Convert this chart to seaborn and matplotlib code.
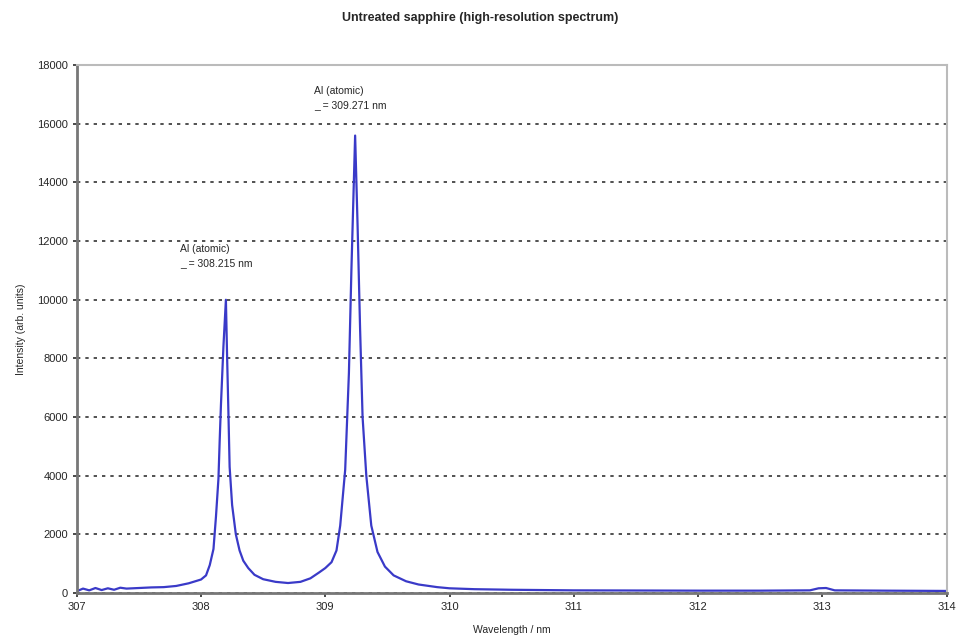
import matplotlib
matplotlib.use("Agg")
import matplotlib.pyplot as plt
import seaborn as sns
import pandas as pd

# values
wavelength = [307.00, 307.05, 307.10, 307.15, 307.20, 307.25, 307.30, 307.35, 307.40,
              307.50, 307.60, 307.70, 307.80, 307.90, 308.00, 308.04, 308.07, 308.10,
              308.12, 308.14, 308.15, 308.16, 308.18, 308.20, 308.21, 308.22, 308.23,
              308.25, 308.28, 308.31, 308.34, 308.38, 308.43, 308.50, 308.60, 308.70,
              308.80, 308.88, 308.95, 309.00, 309.05, 309.09, 309.12, 309.16, 309.19,
              309.21, 309.24, 309.26, 309.28, 309.30, 309.33, 309.37, 309.42, 309.48,
              309.55, 309.65, 309.75, 309.90, 310.00, 310.20, 310.50, 311.00, 311.50,
              312.00, 312.50, 312.90, 312.97, 313.03, 313.10, 313.50, 314.00]
intensity = [60, 150, 90, 170, 100, 160, 110, 180, 150,
             170, 190, 200, 240, 330, 460, 600, 950, 1500,
             2600, 3900, 5200, 6400, 8400, 10000, 8000, 6200, 4300,
             3000, 2000, 1450, 1100, 850, 620, 470, 380, 340,
             380, 500, 700, 850, 1050, 1450, 2300, 4200, 7500,
             11000, 15600, 12500, 9000, 6000, 4000, 2300, 1400, 900,
             600, 400, 290, 200, 160, 130, 110, 90, 85,
             80, 80, 90, 160, 170, 90, 80, 70]

peak_labels = ["Al (atomic)\n_ = 308.215 nm", "Al (atomic)\n_ = 309.271 nm"]
label_x = [307.83, 308.91]
label_y = [11900, 17300]

df = pd.DataFrame({"wavelength": wavelength, "intensity": intensity})

sns.set_theme(style="white")
plt.rcParams["font.family"] = ["Liberation Sans", "DejaVu Sans"]

fig = plt.figure(figsize=(9.6, 6.39), dpi=100)
ax = fig.add_axes([0.080, 0.072, 0.906, 0.826])

sns.lineplot(data=df, x="wavelength", y="intensity", color="#3a3ac8", linewidth=1.6, ax=ax)

ax.set_xlim(307, 314)
ax.set_ylim(0, 18000)
ax.set_xticks(range(307, 315))
ax.set_yticks(range(0, 18001, 2000))
ax.yaxis.grid(True, linestyle=(0, (2, 3)), color="#333333", linewidth=1.2)
ax.tick_params(axis="both", labelsize=8, length=3, direction="out", color="#333333",
               bottom=True, left=True)

for side in ["left", "bottom"]:
    ax.spines[side].set_color("#777777")
    ax.spines[side].set_linewidth(2)
for side in ["top", "right"]:
    ax.spines[side].set_color("#bbbbbb")
    ax.spines[side].set_linewidth(1.5)

ax.set_xlabel("Wavelength / nm", fontsize=7.5, labelpad=9)
ax.set_ylabel("Intensity (arb. units)", fontsize=7.5, labelpad=8)
fig.suptitle("Untreated sapphire (high-resolution spectrum)", fontsize=9,
             fontweight="bold", y=0.982)

for txt, x, y in zip(peak_labels, label_x, label_y):
    ax.text(x, y, txt, fontsize=7.5, va="top", ha="left", linespacing=1.5)

fig.savefig("out.png", dpi=100)
